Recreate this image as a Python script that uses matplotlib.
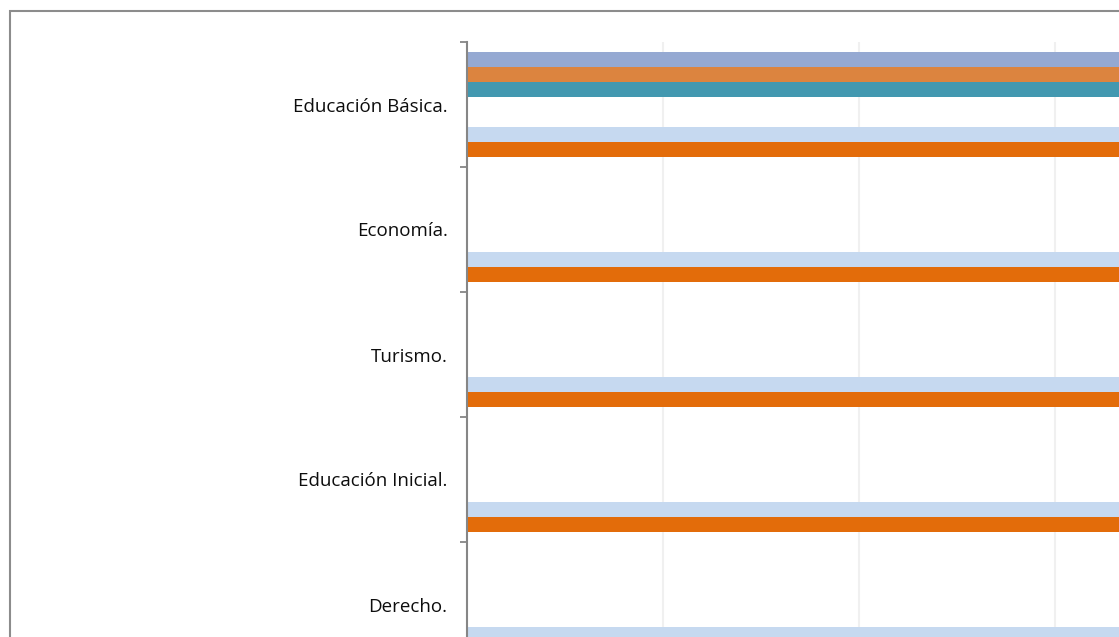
import matplotlib.pyplot as plt
import numpy as np
from matplotlib.patches import Rectangle

plt.rcParams['font.family'] = ['Open Sans', 'DejaVu Sans']

# Categories, top to bottom
carreras = ['Educación Básica.', 'Economía.', 'Turismo.', 'Educación Inicial.', 'Derecho.']

# Series values per category (same order as carreras)
serie_1 = [40, 0, 0, 0, 0]
serie_2 = [40, 0, 0, 0, 0]
serie_3 = [40, 0, 0, 0, 0]
serie_4 = [0, 0, 0, 0, 0]
serie_5 = [0, 0, 0, 0, 0]
serie_6 = [40, 40, 40, 40, 40]
serie_7 = [40, 40, 40, 40, 40]

series = [serie_1, serie_2, serie_3, serie_4, serie_5, serie_6, serie_7]
colores = ['#95A9D2', '#DC843F', '#4298B0', '#9BBB59', '#8064A2', '#C6D9F0', '#E36C0A']

W, H = 1119, 637
fig = plt.figure(figsize=(W / 100, H / 100), dpi=100)

# chart area border (runs past the right and bottom edges)
fig.patches.append(Rectangle((10 / W, -0.1), 1.2, 1 - 11 / H + 0.1, transform=fig.transFigure,
                             fill=False, edgecolor='#8C8C8C', linewidth=1.5))

# plot area: x from 467 px, 196 px per gridline step, 125 px per category
ax = fig.add_axes([467 / W, (H - 667) / H, 784 / W, 625 / H])

y = np.arange(len(carreras))
alto = 0.12
for j, (vals, col) in enumerate(zip(series, colores)):
    ax.barh(y + (j - 3) * alto, vals, height=alto, color=col, zorder=2)

ax.set_xlim(0, 40)
ax.set_ylim(len(carreras) - 0.5, -0.5)
ax.set_xticks([10, 20, 30, 40])
ax.xaxis.grid(True, color='#F0F0F0', linewidth=1.5, zorder=0)
ax.tick_params(axis='x', length=0, labelbottom=False)

ax.set_yticks(np.arange(len(carreras) + 1) - 0.5)
ax.set_yticklabels([])
ax.set_yticks(y, minor=True)
ax.set_yticklabels(carreras, minor=True, fontsize=13.5, color='#0D0D0D')
ax.tick_params(axis='y', which='major', direction='out', length=5, width=1.3, color='#868686')
ax.tick_params(axis='y', which='minor', length=0, pad=14)

for s in ['top', 'right', 'bottom']:
    ax.spines[s].set_visible(False)
ax.spines['left'].set_color('#868686')
ax.spines['left'].set_linewidth(1.5)

fig.savefig('out.png', dpi=100)
